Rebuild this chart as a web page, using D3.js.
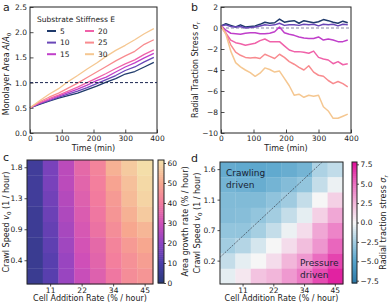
<!DOCTYPE html>
<html>
<head>
<meta charset="utf-8">
<script src="https://cdn.jsdelivr.net/npm/d3@7"></script>
<style>
  body { margin: 0; background: #fff; }
  text { font-family: "DejaVu Sans", sans-serif; fill: #222; }
</style>
</head>
<body>
<script>
// ---- data ----
var stiffness = [5, 10, 15, 20, 25, 30];
var lineColors = ['#1f3a6b', '#6a47b8', '#c03fca', '#f062a9', '#f88b8f', '#f5c791'];

// panel a: area vs time
var timeA = [0, 30, 60, 90, 120, 150, 180, 210, 240, 270, 300, 330, 360, 390];
var areaE5  = [0.50, 0.57, 0.63, 0.69, 0.74, 0.79, 0.86, 0.93, 1.01, 1.08, 1.17, 1.22, 1.31, 1.40];
var areaE10 = [0.50, 0.58, 0.64, 0.71, 0.77, 0.83, 0.90, 0.98, 1.06, 1.14, 1.24, 1.31, 1.41, 1.50];
var areaE15 = [0.50, 0.59, 0.66, 0.73, 0.80, 0.87, 0.95, 1.04, 1.11, 1.21, 1.31, 1.39, 1.49, 1.58];
var areaE20 = [0.50, 0.60, 0.68, 0.75, 0.83, 0.91, 1.00, 1.09, 1.18, 1.28, 1.37, 1.45, 1.56, 1.65];
var areaE25 = [0.50, 0.62, 0.71, 0.79, 0.89, 0.99, 1.10, 1.21, 1.32, 1.43, 1.53, 1.62, 1.76, 1.85];
var areaE30 = [0.50, 0.64, 0.77, 0.88, 1.02, 1.14, 1.27, 1.39, 1.52, 1.64, 1.74, 1.85, 1.97, 2.07];

// panel b: radial traction stress vs time
var timeB = [0, 15, 30, 45, 60, 75, 90, 105, 120, 135, 150, 165, 180, 195, 210, 225, 240, 255, 270, 285, 300, 315, 330, 345, 360, 375, 390];
var stressE5  = [0.2, 0.4, 0.25, 0.1, 0.3, 0.1, 0.15, 0.2, 0.35, 0.55, 0.45, 0.5, 0.85, 0.55, 0.65, 0.7, 0.45, 0.7, 0.6, 0.5, 0.6, 0.8, 0.7, 0.55, 0.45, 0.65, 0.5];
var stressE10 = [0.2, 0.3, 0.15, 0.1, 0.15, 0.0, 0.05, 0.1, 0.2, 0.3, 0.25, 0.3, 0.45, 0.25, 0.3, 0.3, 0.25, 0.35, 0.3, 0.35, 0.2, 0.35, 0.3, 0.35, 0.2, 0.35, 0.3];
var stressE15 = [0.2, -0.2, -0.5, -0.55, -0.6, -0.5, -0.45, -0.45, -0.55, -0.55, -0.5, -0.35, 0.1, -0.45, -0.6, -0.7, -0.85, -0.95, -1.0, -1.0, -0.85, -1.15, -1.05, -1.15, -1.3, -1.3, -1.15];
var stressE20 = [0.1, -0.5, -1.15, -1.4, -1.5, -1.65, -1.55, -1.45, -1.2, -1.05, -1.3, -1.3, -1.3, -1.7, -2.1, -2.25, -2.25, -2.3, -2.4, -2.2, -2.8, -2.95, -3.05, -3.4, -3.2, -3.5, -3.4];
var stressE25 = [0.2, -0.5, -1.6, -2.3, -2.6, -2.8, -2.85, -2.8, -2.9, -2.5, -2.7, -2.9, -2.5, -2.8, -3.2, -3.45, -3.75, -4.0, -3.6, -4.2, -4.5, -4.6, -5.0, -5.3, -5.1, -5.3, -5.6];
var stressE30 = [0.2, -0.6, -2.2, -3.3, -3.7, -4.0, -4.25, -4.6, -4.3, -3.8, -3.95, -4.2, -4.1, -4.8, -5.5, -6.4, -6.3, -6.6, -6.4, -6.5, -6.4, -7.5, -7.9, -8.6, -8.6, -8.4, -8.2];

// heatmaps: columns = cell addition rate, rows = crawl speed (bottom to top)
var addRates = ['6', '11', '17', '22', '28', '34', '39', '45'];
var addRateTicks = ['11', '22', '34', '45'];
var speedsC = ['0.2', '0.4', '0.6', '0.9', '1.1', '1.3', '1.6', '1.8'];
var speedTicksC = ['0.4', '0.9', '1.3', '1.8'];
var speedsD = ['0.0', '0.2', '0.5', '0.7', '0.9', '1.1', '1.4', '1.6'];
var speedTicksD = ['0.2', '0.7', '1.1', '1.6'];

// area growth rate (% / hour), rows listed top (fast) to bottom (slow)
var growth = [
  [7, 17, 27, 36, 42, 52, 57, 61],
  [7, 17, 27, 35, 41, 49, 55, 60],
  [7, 16, 26, 34, 40, 47, 54, 59],
  [6, 15, 25, 33, 39, 46, 52, 57],
  [6, 14, 24, 32, 38, 44, 50, 53],
  [5, 13, 23, 31, 36, 42, 47, 50],
  [5, 12, 22, 30, 35, 41, 45, 48],
  [5, 12, 22, 29, 34, 39, 44, 46]
];
// radial traction stress, rows top to bottom
var stress = [
  [-4.5, -4.6, -4.7, -4.6, -4.4, -4.0, -2.2, -1.6],
  [-4.0, -4.2, -4.4, -4.0, -3.5, -3.0, -1.5, -0.3],
  [-3.6, -3.6, -3.6, -3.1, -2.6, -1.5, 0.0, 1.5],
  [-3.5, -3.4, -3.0, -2.5, -1.5, -0.5, 1.5, 3.0],
  [-3.0, -3.0, -2.4, -1.5, -0.3, 1.0, 3.0, 4.2],
  [-2.5, -2.0, -1.0, 0.0, 1.0, 2.2, 3.6, 5.2],
  [-1.5, -0.5, 0.0, 1.0, 2.5, 3.5, 5.0, 6.2],
  [-0.5, 0.6, 2.0, 2.5, 3.5, 4.6, 6.0, 7.2]
];

var W = 392, H = 305;
var svg = d3.select('body').append('svg').attr('width', W).attr('height', H);

var growthColor = d3.scaleLinear()
    .domain([0, 10, 20, 30, 40, 50, 61.5])
    .range(['#283a78', '#4b3ea9', '#8c43c2', '#cf4fb8', '#f27b9e', '#f7a78f', '#f4e0aa'])
    .clamp(true);
var stressColor = d3.scaleLinear()
    .domain([-7.8, -5, -2.5, 0, 2.5, 5, 7.8])
    .range(['#2a77a6', '#55a3cb', '#a3cde1', '#f6f6f6', '#f2b6da', '#ea6dc0', '#df0e98'])
    .clamp(true);

function styleAxis(g){
    g.selectAll('.domain').remove();
    g.selectAll('.tick line').attr('stroke', '#222').attr('stroke-width', 0.8);
    g.selectAll('.tick text').attr('font-size', 7.5).attr('fill', '#222')
        .attr('font-family', '"DejaVu Sans", sans-serif');
}

function frame(x0, y0, x1, y1){
    svg.append('rect').attr('x', x0).attr('y', y0)
        .attr('width', x1 - x0).attr('height', y1 - y0)
        .attr('fill', 'none').attr('stroke', '#222').attr('stroke-width', 1);
}

function label(txt, x, y, size, rot, anchor){
    var t = svg.append('text').attr('font-size', size)
        .attr('text-anchor', anchor || 'middle')
        .attr('transform', 'translate(' + x + ',' + y + ')' + (rot ? ' rotate(' + rot + ')' : ''));
    return t.text(txt);
}

// ---- line panels ----
function linePanel(box, xDom, yDom, yTicks, yFmt, times, series, lw){
    var x = d3.scaleLinear().domain(xDom).range([box.l, box.r]);
    var y = d3.scaleLinear().domain(yDom).range([box.b, box.t]);

    svg.append('g').attr('transform', 'translate(0,' + box.b + ')')
        .call(d3.axisBottom(x).tickValues([0, 100, 200, 300, 400]).tickSizeInner(-3.5).tickSizeOuter(0).tickPadding(3))
        .call(styleAxis);
    svg.append('g').attr('transform', 'translate(' + box.l + ',0)')
        .call(d3.axisLeft(y).tickValues(yTicks).tickFormat(yFmt).tickSizeInner(-3.5).tickSizeOuter(0).tickPadding(3))
        .call(styleAxis);

    var line = d3.line().x(function(d){ return x(d[0]); }).y(function(d){ return y(d[1]); });
    series.forEach(function(s, i){
        svg.append('path')
            .datum(times.map(function(t, k){ return [t, s[k]]; }))
            .attr('d', line)
            .attr('fill', 'none')
            .attr('stroke', lineColors[i])
            .attr('stroke-width', lw)
            .attr('stroke-linejoin', 'round');
    });
    frame(box.l, box.t, box.r, box.b);
    return {x: x, y: y};
}

// a
var boxA = {l: 30, r: 157, t: 7, b: 133};
var sa = linePanel(boxA, [0, 400], [0, 2.5], [0, 0.5, 1, 1.5, 2, 2.5], d3.format('.1f'),
    timeA, [areaE5, areaE10, areaE15, areaE20, areaE25, areaE30], 1.3);
svg.append('line')
    .attr('x1', sa.x(0)).attr('x2', sa.x(400))
    .attr('y1', sa.y(1)).attr('y2', sa.y(1))
    .attr('stroke', '#1a2550').attr('stroke-width', 1).attr('stroke-dasharray', '3,2');
label('Time (min)', (boxA.l + boxA.r) / 2, 151, 8);
var ylA = label('', 9, (boxA.t + boxA.b) / 2 + 4, 8, -90);
ylA.append('tspan').text('Monolayer Area ');
ylA.append('tspan').attr('font-style', 'italic').text('A');
ylA.append('tspan').text('/');
ylA.append('tspan').attr('font-style', 'italic').text('A');
ylA.append('tspan').attr('font-size', 5.5).attr('dy', 2).text('0');

// legend
label('Substrate Stiffness E', 37, 22, 7.5, 0, 'start');
stiffness.forEach(function(e, i){
    var col = Math.floor(i / 3), row = i % 3;
    var lx = 47 + col * 38, ly = 31 + row * 11.6;
    svg.append('line').attr('x1', lx).attr('x2', lx + 9).attr('y1', ly).attr('y2', ly)
        .attr('stroke', lineColors[i]).attr('stroke-width', 2);
    label(String(e), lx + 13, ly + 2.8, 7.5, 0, 'start');
});
label('a', 3, 11, 11, 0, 'start');

// b
var boxB = {l: 221, r: 351, t: 7, b: 133};
svg.append('line')
    .attr('x1', boxB.l).attr('x2', boxB.r)
    .attr('y1', boxB.t + (boxB.b - boxB.t) * 2 / 12).attr('y2', boxB.t + (boxB.b - boxB.t) * 2 / 12)
    .attr('stroke', '#8a88a8').attr('stroke-width', 1.2).attr('stroke-dasharray', '3,2');
var sb = linePanel(boxB, [0, 400], [-10, 2], [-10, -8, -6, -4, -2, 0, 2], function(d){ return d3.format('d')(d).replace('-', '\u2212'); },
    timeB, [stressE5, stressE10, stressE15, stressE20, stressE25, stressE30], 1.5);
label('Time (min)', (boxB.l + boxB.r) / 2, 151, 8);
var ylB = label('', 198, (boxB.t + boxB.b) / 2, 8, -90);
ylB.append('tspan').text('Radial Traction Stress ');
ylB.append('tspan').attr('font-style', 'italic').text('\u03c3');
ylB.append('tspan').attr('font-style', 'italic').attr('font-size', 5.5).attr('dy', 2).text('r');
label('b', 191, 11, 11, 0, 'start');

// ---- heatmaps ----
function heatPanel(box, rowsCat, rowTicks, values, color, cb, cbDom, cbTicks, cbFmt){
    var x = d3.scaleBand().domain(addRates).range([box.l, box.r]);
    var y = d3.scaleBand().domain(rowsCat.slice().reverse()).range([box.t, box.b]);
    var top = rowsCat.slice().reverse();

    values.forEach(function(row, i){
        row.forEach(function(v, j){
            svg.append('rect')
                .attr('x', x(addRates[j])).attr('y', y(top[i]))
                .attr('width', x.bandwidth() + 0.3).attr('height', y.bandwidth() + 0.3)
                .attr('fill', color(v));
        });
    });

    svg.append('g').attr('transform', 'translate(0,' + box.b + ')')
        .call(d3.axisBottom(x).tickValues(addRateTicks).tickSizeInner(2.5).tickSizeOuter(0).tickPadding(1.5))
        .call(styleAxis);
    svg.append('g').attr('transform', 'translate(' + box.l + ',0)')
        .call(d3.axisLeft(y).tickValues(rowTicks).tickSizeInner(2.5).tickSizeOuter(0).tickPadding(2))
        .call(styleAxis);
    frame(box.l, box.t, box.r, box.b);

    // colorbar
    var cy = d3.scaleLinear().domain(cbDom).range([cb.b, cb.t]);
    var steps = d3.range(0, 60);
    steps.forEach(function(k){
        var v0 = cbDom[0] + (cbDom[1] - cbDom[0]) * k / 60;
        var v1 = cbDom[0] + (cbDom[1] - cbDom[0]) * (k + 1) / 60;
        svg.append('rect').attr('x', cb.l).attr('width', cb.r - cb.l)
            .attr('y', cy(v1)).attr('height', cy(v0) - cy(v1) + 0.5)
            .attr('fill', color((v0 + v1) / 2));
    });
    svg.append('g').attr('transform', 'translate(' + cb.r + ',0)')
        .call(d3.axisRight(cy).tickValues(cbTicks).tickFormat(cbFmt).tickSizeInner(2).tickSizeOuter(0).tickPadding(1.5))
        .call(styleAxis);
    frame(cb.l, cb.t, cb.r, cb.b);
    return {x: x, y: y};
}

// c
var boxC = {l: 27, r: 153, t: 160, b: 284};
heatPanel(boxC, speedsC, speedTicksC, growth, growthColor,
    {l: 158, r: 164, t: 160, b: 283}, [0, 61.5], [0, 10, 20, 30, 40, 50, 60], d3.format('d'));
label('Cell Addition Rate (% / hour)', (boxC.l + boxC.r) / 2, 301, 8);
var ylC = label('', 9, (boxC.t + boxC.b) / 2, 8, -90);
ylC.append('tspan').text('Crawl Speed ');
ylC.append('tspan').attr('font-style', 'italic').text('v');
ylC.append('tspan').attr('font-size', 5.5).attr('dy', 2).text('0');
ylC.append('tspan').attr('dy', -2).text(' (1 / hour)');
label('Area growth rate (% / hour)', 188, (160 + 283) / 2, 8, -90);
label('c', 3, 161, 11, 0, 'start');

// d
var boxD = {l: 220, r: 343, t: 162, b: 284};
heatPanel(boxD, speedsD, speedTicksD, stress, stressColor,
    {l: 352, r: 357, t: 162, b: 283}, [-7.8, 7.8], [-7.5, -5, -2.5, 0, 2.5, 5, 7.5],
    function(d){ return d3.format('.1f')(d).replace('-', '\u2212'); });

// crawling / pressure boundary, in cell units
var cx = d3.scaleLinear().domain([0, 8]).range([boxD.l, boxD.r]);
var cyD = d3.scaleLinear().domain([0, 8]).range([boxD.b, boxD.t]);
var boundary = [[0, 1.75], [6.65, 8]];
svg.append('line')
    .attr('x1', cx(boundary[0][0])).attr('y1', cyD(boundary[0][1]))
    .attr('x2', cx(boundary[1][0])).attr('y2', cyD(boundary[1][1]))
    .attr('stroke', '#3a3f4a').attr('stroke-width', 0.7).attr('stroke-dasharray', '2,1.2');

label('Crawling', 226, 176, 9, 0, 'start').style('fill', '#1a2233');
label('driven', 226, 188, 9, 0, 'start').style('fill', '#1a2233');
label('Pressure', 300, 266, 9, 0, 'start').style('fill', '#1a2233');
label('driven', 300, 278, 9, 0, 'start').style('fill', '#1a2233');

label('Cell Addition Rate (% / hour)', (boxD.l + boxD.r) / 2, 301, 8);
var ylD = label('', 200, (boxD.t + boxD.b) / 2, 8, -90);
ylD.append('tspan').text('Crawl Speed ');
ylD.append('tspan').attr('font-style', 'italic').text('v');
ylD.append('tspan').attr('font-size', 5.5).attr('dy', 2).text('0');
ylD.append('tspan').attr('dy', -2).text(' (1 / hour)');
var ylD2 = label('', 386, (162 + 283) / 2, 8, -90);
ylD2.append('tspan').text('Radial traction stress ');
ylD2.append('tspan').attr('font-style', 'italic').text('\u03c3');
ylD2.append('tspan').attr('font-style', 'italic').attr('font-size', 5.5).attr('dy', 2).text('r');
label('d', 191, 162, 11, 0, 'start');
</script>
</body>
</html>
